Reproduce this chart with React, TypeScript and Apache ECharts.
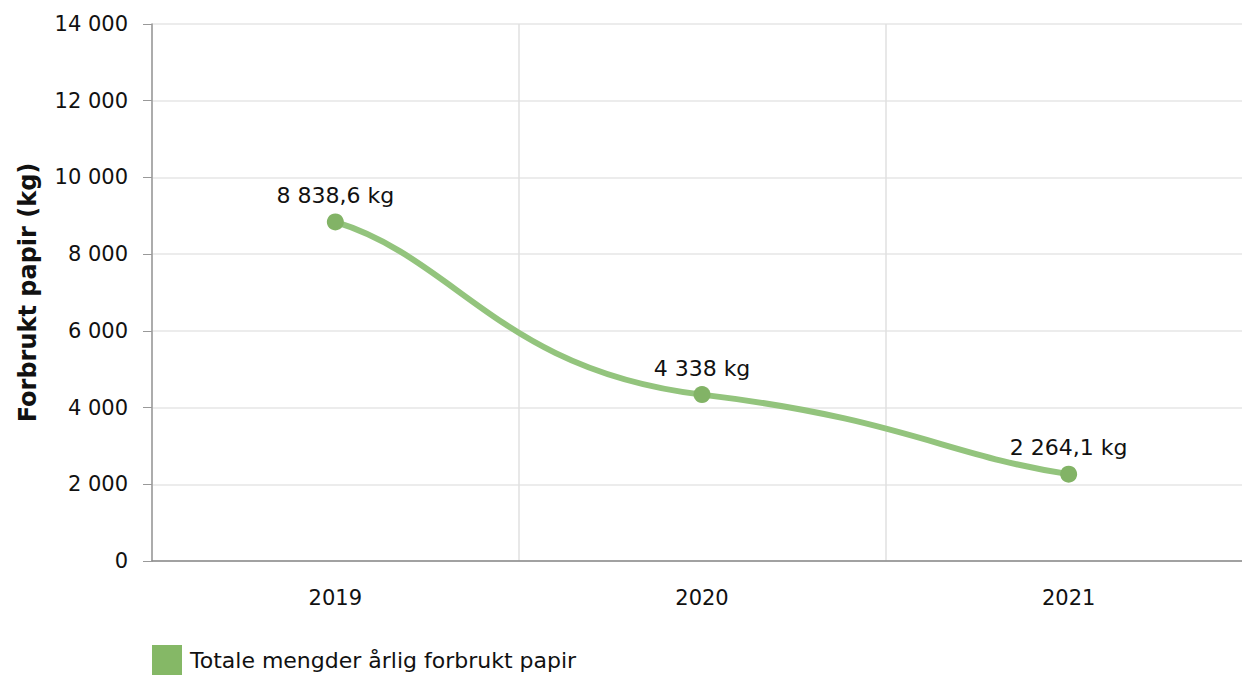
import React, { useEffect, useRef } from "react";
import * as echarts from "echarts";

const categories = ["2019", "2020", "2021"];
const values = [8838.6, 4338, 2264.1];
const valueLabels = ["8 838,6 kg", "4 338 kg", "2 264,1 kg"];
const seriesName = "Totale mengder årlig forbrukt papir";
const yAxisName = "Forbrukt papir (kg)";

const fmt = (v: number) => String(v).replace(/\B(?=(\d{3})+(?!\d))/g, " ");

export default function App() {
  const ref = useRef<HTMLDivElement>(null);
  useEffect(() => {
    document.body.style.margin = "0";
    document.body.style.overflow = "hidden";
    const chart = echarts.init(ref.current!, null, { renderer: "svg" });
    const font = "DejaVu Sans, Verdana, sans-serif";

    // smooth spline segment between point i and i+1, computed in pixel space
    const renderSpline = (params: any, api: any) => {
      const i = params.dataIndex;
      const n = values.length;
      if (i >= n - 1) return null;
      const pts = values.map((v, k) => api.coord([k, v]));
      const slope = (k: number) => {
        if (k === 0) return ((pts[1][1] - pts[0][1]) / (pts[1][0] - pts[0][0])) * 0.65;
        if (k === n - 1)
          return ((pts[k][1] - pts[k - 1][1]) / (pts[k][0] - pts[k - 1][0])) * 0.7;
        return ((pts[k + 1][1] - pts[k - 1][1]) / (pts[k + 1][0] - pts[k - 1][0])) * 0.35;
      };
      const handle = (k: number, h: number) => (k === 0 || k === n - 1 ? h / 3 : h * 0.55);
      const a = pts[i];
      const b = pts[i + 1];
      const h = b[0] - a[0];
      const ha = handle(i, h);
      const hb = handle(i + 1, h);
      return {
        type: "bezierCurve",
        shape: {
          x1: a[0],
          y1: a[1],
          x2: b[0],
          y2: b[1],
          cpx1: a[0] + ha,
          cpy1: a[1] + ha * slope(i),
          cpx2: b[0] - hb,
          cpy2: b[1] - hb * slope(i + 1),
        },
        style: { stroke: "#93c47d", lineWidth: 6, fill: null, lineCap: "round" },
      };
    };

    chart.setOption({
      animation: false,
      textStyle: { fontFamily: font },
      grid: { left: 152, top: 24, right: 0, bottom: 114, containLabel: false },
      legend: {
        left: 147,
        top: 640,
        itemWidth: 30,
        itemHeight: 30,
        icon: "rect",
        itemGap: 8,
        textStyle: { fontSize: 22, color: "#111", fontFamily: font, padding: [0, 0, 0, 3] },
        data: [{ name: seriesName, itemStyle: { color: "#85b866" } }],
      },
      xAxis: {
        type: "category",
        data: categories,
        boundaryGap: true,
        axisLine: { lineStyle: { color: "#888", width: 1.5 } },
        axisTick: { alignWithLabel: true, length: 8, lineStyle: { color: "#aaa" } },
        axisLabel: { fontSize: 21, color: "#111", margin: 26, fontFamily: font },
        splitLine: { show: true, lineStyle: { color: "#e0e0e0", width: 1.5 } },
      },
      yAxis: {
        type: "value",
        min: 0,
        max: 14000,
        interval: 2000,
        name: yAxisName,
        nameLocation: "middle",
        nameGap: 112,
        nameTextStyle: { fontSize: 24, fontWeight: "bold", color: "#111", fontFamily: font },
        axisLine: { show: true, lineStyle: { color: "#999", width: 1.5 } },
        axisTick: { show: true, length: 9, lineStyle: { color: "#999" } },
        axisLabel: {
          fontSize: 21,
          color: "#111",
          margin: 24,
          fontFamily: font,
          formatter: (v: number) => fmt(v),
        },
        splitLine: { show: true, lineStyle: { color: "#e6e6e6", width: 1.5 } },
      },
      series: [
        {
          name: seriesName,
          type: "custom",
          data: values.map((v, i) => [i, v]),
          renderItem: renderSpline,
          z: 1,
          silent: true,
        },
        {
          name: seriesName,
          type: "line",
          data: values,
          symbol: "circle",
          symbolSize: 17,
          z: 2,
          itemStyle: { color: "#82b366" },
          lineStyle: { width: 0, opacity: 0 },
          label: {
            show: true,
            position: "top",
            distance: 7,
            fontSize: 22,
            color: "#111",
            fontFamily: font,
            formatter: (p: any) => valueLabels[p.dataIndex],
          },
        },
      ],
    });
    return () => chart.dispose();
  }, []);
  return (
    <div style={{ width: 1242, height: 675, overflow: "hidden" }}>
      <div ref={ref} style={{ width: 1252, height: 675 }} />
    </div>
  );
}
